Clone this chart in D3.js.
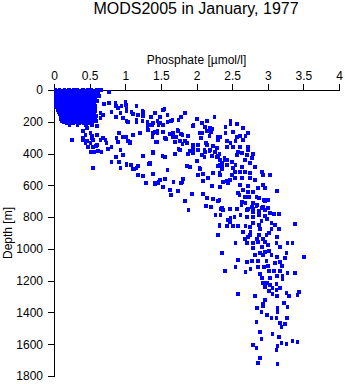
<!DOCTYPE html>
<html>
<head>
<meta charset="utf-8">
<script src="https://cdn.jsdelivr.net/npm/d3@7"></script>
<style>
  html, body { margin: 0; padding: 0; background: #fff; }
  svg { display: block; }
  text { font-family: "Liberation Sans", Arial, Helvetica, sans-serif; fill: #000; }
</style>
</head>
<body>
<svg id="chart" width="345" height="384"></svg>
<script>
const title = "MODS2005 in January, 1977";
const xLabel = "Phosphate [\u00b5mol/l]";
const yLabel = "Depth [m]";
const xTicks = [0, 0.5, 1, 1.5, 2, 2.5, 3, 3.5, 4];
const yTicks = [0, 200, 400, 600, 800, 1000, 1200, 1400, 1600, 1800];

// Surface layer: [depth, [phosphate values observed at that depth]]
const surfaceRows = [
  [0,   [0.02,0.08,0.15,0.21,0.28,0.33,0.41,0.47,0.52,0.60,0.66]],
  [3,   [0.05,0.11,0.18,0.25,0.31,0.37,0.44,0.50,0.56,0.63]],
  [5,   [0.05,0.12,0.19,0.25,0.36,0.44,0.55]],
  [10,  [0.03,0.10,0.17,0.24,0.30,0.38,0.49,0.58]],
  [12,  [0.07,0.14,0.21,0.27,0.34,0.42,0.53,0.61]],
  [15,  [0.07,0.14,0.22,0.33,0.40,0.46,0.53]],
  [20,  [0.02,0.09,0.18,0.27,0.35,0.43,0.50,0.62]],
  [25,  [0.05,0.13,0.20,0.29,0.37,0.45,0.56]],
  [30,  [0.03,0.11,0.16,0.24,0.32,0.41,0.48,0.54]],
  [35,  [0.08,0.14,0.20,0.27,0.35,0.43,0.51,0.57]],
  [40,  [0.06,0.12,0.21,0.28,0.36,0.44,0.51,0.59]],
  [45,  [0.03,0.10,0.17,0.25,0.33,0.40,0.48,0.55]],
  [50,  [0.02,0.09,0.15,0.23,0.31,0.39,0.47,0.55]],
  [55,  [0.06,0.13,0.21,0.28,0.36,0.44,0.52,0.58]],
  [60,  [0.04,0.11,0.19,0.26,0.34,0.42,0.50]],
  [65,  [0.02,0.09,0.16,0.23,0.31,0.39,0.47,0.55]],
  [70,  [0.07,0.14,0.22,0.30,0.37,0.45,0.53,0.61]],
  [75,  [0.03,0.10,0.18,0.27,0.33,0.40,0.48]],
  [80,  [0.05,0.13,0.21,0.29,0.35,0.43,0.50,0.57]],
  [85,  [0.08,0.16,0.25,0.32,0.40,0.47,0.54]],
  [90,  [0.02,0.09,0.16,0.24,0.33,0.39,0.46,0.52]],
  [95,  [0.05,0.13,0.20,0.28,0.35,0.43,0.50,0.57]],
  [100, [0.06,0.12,0.20,0.28,0.36,0.44,0.50,0.58]],
  [105, [0.03,0.09,0.16,0.24,0.31,0.39,0.47,0.54]],
  [110, [0.04,0.11,0.17,0.25,0.32,0.41,0.49]],
  [115, [0.07,0.14,0.21,0.28,0.36,0.44,0.52,0.58]],
  [120, [0.08,0.15,0.22,0.30,0.38,0.45,0.54]],
  [125, [0.05,0.13,0.19,0.27,0.35,0.43,0.51]],
  [130, [0.09,0.16,0.24,0.31,0.40,0.47,0.56]],
  [135, [0.06,0.12,0.20,0.27,0.34,0.42,0.50,0.58]],
  [140, [0.07,0.14,0.21,0.29,0.37,0.44,0.52]],
  [145, [0.10,0.17,0.25,0.32,0.39,0.47,0.55]],
  [150, [0.10,0.18,0.25,0.33,0.41,0.49,0.57]],
  [155, [0.08,0.15,0.22,0.29,0.37,0.45,0.53]],
  [160, [0.12,0.20,0.27,0.35,0.42,0.50]],
  [165, [0.10,0.16,0.23,0.31,0.38,0.46,0.54,0.59]],
  [170, [0.09,0.17,0.24,0.32,0.39,0.47,0.55]],
  [175, [0.14,0.22,0.30,0.37,0.45,0.53]],
  [180, [0.11,0.19,0.26,0.34,0.43,0.51]],
  [185, [0.09,0.16,0.23,0.30,0.38,0.47,0.55]],
  [190, [0.13,0.21,0.28,0.36,0.44,0.52,0.58]],
  [195, [0.11,0.18,0.25,0.33,0.41,0.49,0.56]],
  [200, [0.16,0.23,0.31,0.39,0.46,0.54]],
  [205, [0.14,0.20,0.28,0.36,0.43,0.51]],
  [210, [0.18,0.27,0.35,0.42,0.50]],
  [220, [0.22,0.33,0.45]]
];

// [phosphate, depth]
const upperPoints = [
  [0.55,25],[0.63,38],[0.58,63],[0.70,88],[0.77,82],[0.77,13],[0.87,100],[0.95,100],[1.01,95],[1.02,132],
  [0.93,145],[0.81,138],[0.87,170],[0.97,176],[1.02,195],[0.69,157],[0.65,176],[0.59,195],[0.86,82],[1.16,100],
  [0.90,113],[1.09,138],[1.25,138],[1.42,145],[1.53,126],[0.65,145],[1.04,201],[1.16,201],[1.31,201],[1.39,208],
  [1.49,208],[1.59,201],[1.66,189],[1.00,75],[1.02,120],[1.11,151],[1.24,132],[1.18,157],[1.25,164],[1.16,189],
  [1.24,195],[1.33,220],[1.31,226],[1.36,170],[1.49,170],[1.55,120],[1.59,157],[1.84,145],[1.78,170],[1.64,195],
  [1.45,195],[1.47,220],[1.38,220],[1.53,220],[1.75,189],[2.01,182],[1.96,220],[2.08,208],[2.15,195],[2.25,170],
  [2.41,233],[2.48,195],[2.48,214],[2.57,214],[2.65,239],[1.95,226],[2.19,239],[2.20,264],[2.12,233],[2.18,289],
  [2.08,270],[0.53,220],[0.60,226],[0.46,239],[0.41,258],[0.44,283],[0.53,289],[0.69,302],[0.91,270],[0.97,296],
  [0.88,302],[0.51,270],[0.60,283],[0.41,302],[0.53,302],[1.02,296],[1.11,283],[1.21,270],[1.32,252],[1.42,264],
  [1.67,270],[1.73,252],[1.39,270],[1.45,270],[1.53,264],[1.63,277],[1.71,296],[1.78,277],[2.05,270],[2.22,245],
  [1.45,258],[1.38,296],[1.56,302],[1.66,296],[1.74,258],[1.80,283],[1.88,289],[2.15,258],[2.30,296]
];

const midPoints = [
  [2.06,302],[1.57,308],[1.70,327],[1.80,340],[1.87,333],[1.95,346],[2.02,346],[2.15,346],[2.11,377],[2.18,384],
  [1.75,371],[1.39,396],[1.52,415],[1.56,421],[1.70,403],[1.88,403],[1.95,396],[2.30,415],[2.39,428],[2.43,440],
  [1.35,459],[1.87,478],[1.91,484],[2.05,497],[1.59,503],[1.39,528],[2.02,535],[2.09,528],[2.30,478],[2.36,497],
  [1.49,566],[1.56,560],[1.81,560],[1.78,585],[1.47,585],[1.42,591],[1.53,610],[1.63,629],[1.74,635],[1.64,660],
  [1.94,654],[1.84,698],[1.89,755],[2.36,742],[2.44,818],[2.32,849],[1.07,327],[0.93,377],[0.97,409],[1.02,472],
  [1.08,472],[1.12,497],[1.18,478],[1.25,415],[1.39,390],[0.93,491],[1.35,465],[1.18,535],[1.25,541],[1.29,585],
  [1.68,579],[1.80,579],[1.91,384],[1.95,371],[2.02,377],[2.08,409],[2.22,415],[2.01,447],[2.04,491],[1.43,327],
  [1.77,321],[1.84,321],[1.77,377],[2.16,553],[2.23,522],[2.33,535],[2.43,572],[2.29,365],[2.32,403],[2.36,459],
  [2.43,321],[0.25,314],[0.41,314],[0.46,321],[0.51,333],[0.55,314],[0.72,314],[0.55,358],[0.59,352],[0.52,390],
  [0.56,390],[0.62,384],[0.67,390],[0.76,371],[1.07,333],[0.55,491],[0.81,453],[0.87,421],[0.91,453],[1.02,465],
  [1.11,497],[1.16,491],[1.33,465],[1.42,585],[1.47,579],[1.45,327],[0.44,333],[0.48,358],[0.65,314],[0.74,333],
  [0.81,358],[0.90,327],[1.04,321],[0.60,346]
];

const rightPoints = [
  [2.13,333],[2.23,352],[2.19,377],[2.12,390],[2.26,390],[2.29,421],[2.33,440],[2.11,421],[2.30,314],[2.34,296],
  [2.51,264],[2.41,270],[2.57,296],[2.61,289],[2.69,289],[2.72,270],[2.65,314],[2.55,321],[2.48,333],[2.43,358],
  [2.51,358],[2.61,358],[2.72,358],[2.72,377],[2.58,390],[2.57,409],[2.64,396],[2.71,409],[2.79,403],[2.78,428],
  [2.68,440],[2.75,459],[2.50,453],[2.39,440],[2.33,472],[2.43,472],[2.36,484],[2.51,491],[2.55,472],[2.64,484],
  [2.82,484],[2.54,516],[2.61,516],[2.68,516],[2.75,522],[2.92,516],[2.93,535],[3.03,535],[2.32,522],[2.50,535],
  [2.54,553],[2.47,566],[2.64,553],[2.75,553],[2.82,566],[2.37,579],[2.44,585],[2.09,572],[2.61,598],[2.72,604],
  [2.93,598],[2.96,616],[2.86,616],[3.13,635],[2.79,642],[2.72,642],[2.65,629],[2.58,648],[2.60,660],[2.68,673],
  [2.74,673],[2.84,673],[2.88,679],[2.95,692],[3.00,692],[2.22,604],[2.33,610],[2.09,654],[2.15,679],[2.23,686],
  [2.32,692],[2.64,704],[2.69,711],[2.78,736],[2.85,723],[2.93,736],[3.00,742],[2.13,730],[2.20,736],[2.34,748],
  [2.47,748],[2.57,748],[2.72,748],[2.79,748]
];

const deepPoints = [
  [2.30,698],[2.79,711],[2.96,698],[2.63,723],[2.84,730],[2.92,742],[2.71,755],[2.79,767],[2.88,761],[2.96,755],
  [2.37,755],[2.27,786],[2.34,786],[2.48,805],[2.53,799],[2.62,786],[2.71,799],[2.79,799],[2.88,786],[2.96,792],
  [3.03,774],[3.09,780],[3.16,780],[2.47,830],[2.91,824],[2.99,811],[2.79,837],[3.05,837],[2.88,849],[2.32,855],
  [2.43,855],[2.51,855],[2.58,855],[2.69,855],[2.75,862],[3.10,849],[3.16,874],[3.38,843],[2.65,893],[2.76,893],
  [2.89,874],[3.05,874],[3.02,899],[2.75,912],[2.72,925],[2.88,912],[2.98,912],[2.30,912],[2.68,937],[2.85,937],
  [2.93,937],[3.13,925],[2.55,962],[2.71,962],[2.79,962],[2.86,956],[2.96,956],[3.12,962],[3.28,962],[3.35,962],
  [3.00,975],[2.79,994],[2.92,987],[3.17,987],[2.96,1019],[2.89,1025],[3.02,1013],[2.82,1038],[2.93,1038],[3.05,1038],
  [3.26,1025],[2.36,1025],[3.13,1050],[3.24,1057],[3.17,1082],[3.51,1050],[2.58,1069],[2.71,1082],[2.78,1075],[2.86,1075],
  [2.98,1075],[3.10,1088],[3.20,1107],[2.55,1113],[2.76,1126],[2.86,1113],[2.95,1113],[3.00,1107],[2.40,1138],[2.69,1145],
  [2.89,1157],[3.02,1138],[3.09,1138],[3.17,1138],[3.28,1151],[3.38,1151],[3.13,1170],[3.21,1170],[2.92,1183],[3.03,1183],
  [3.21,1189],[2.93,1214],[2.99,1214],[3.03,1227],[2.96,1239],[3.07,1245],[3.17,1245],[3.12,1220],[3.12,1258],[3.02,1264],
  [3.07,1283],[3.26,1277],[3.30,1296],[3.42,1289],[3.44,1270],[2.58,1283],[2.82,1296],[3.13,1296],[2.96,1321],[2.93,1346],
  [2.93,1359],[3.23,1340],[3.28,1365],[2.85,1371],[3.14,1371],[3.14,1396],[2.91,1396],[2.99,1415],[3.05,1434],[3.12,1434],
  [3.27,1434],[3.17,1466],[3.24,1472],[3.19,1491],[2.84,1459],[2.89,1522],[3.07,1535],[3.16,1554],[2.91,1566],[3.35,1579],
  [3.42,1585],[3.19,1591],[3.26,1598],[3.14,1610],[2.79,1604],[2.84,1623],[3.12,1635],[2.89,1686],[2.86,1717],[3.14,1723]
];

const points = [];
surfaceRows.forEach(([d, ps]) => ps.forEach(p => points.push([p, d])));
[upperPoints, midPoints, rightPoints, deepPoints].forEach(arr => arr.forEach(pt => points.push(pt)));

const svg = d3.select("#chart");
svg.append("rect").attr("width", 345).attr("height", 384).attr("fill", "#fff");

const x = d3.scaleLinear().domain([0, 4]).range([54, 339]);
const y = d3.scaleLinear().domain([0, 1800]).range([90, 376]);

// Title
svg.append("text")
  .attr("x", 196).attr("y", 14)
  .attr("text-anchor", "middle")
  .style("font-size", "16px")
  .text(title);

// X axis (top)
const xAxis = svg.append("g")
  .attr("transform", "translate(0,90)")
  .call(d3.axisTop(x).tickValues(xTicks).tickSize(6).tickPadding(4).tickFormat(d3.format("")));
xAxis.selectAll("text").style("font-size", "12px");

// Y axis (left)
const yAxis = svg.append("g")
  .attr("transform", "translate(54,0)")
  .call(d3.axisLeft(y).tickValues(yTicks).tickSize(6).tickPadding(5).tickFormat(d3.format("d")));
yAxis.selectAll("text").style("font-size", "12px");

[xAxis, yAxis].forEach(g => {
  g.selectAll("path, line").attr("stroke", "#000").attr("stroke-width", 1).attr("shape-rendering", "crispEdges");
  g.selectAll("text").attr("fill", "#000").style("font-family", "'Liberation Sans', Arial, sans-serif");
});

// Axis titles
svg.append("text")
  .attr("x", 196.5).attr("y", 64)
  .attr("text-anchor", "middle")
  .style("font-size", "12px")
  .text(xLabel);

svg.append("text")
  .attr("transform", "translate(12,233) rotate(-90)")
  .attr("text-anchor", "middle")
  .style("font-size", "12px")
  .text(yLabel);

// Points
svg.append("g")
  .selectAll("rect")
  .data(points)
  .join("rect")
  .attr("x", d => x(d[0]) - 1.75)
  .attr("y", d => y(d[1]) - 1.75)
  .attr("width", 3.5)
  .attr("height", 3.5)
  .attr("fill", "#0000ff")
  .attr("shape-rendering", "crispEdges");
</script>
</body>
</html>
